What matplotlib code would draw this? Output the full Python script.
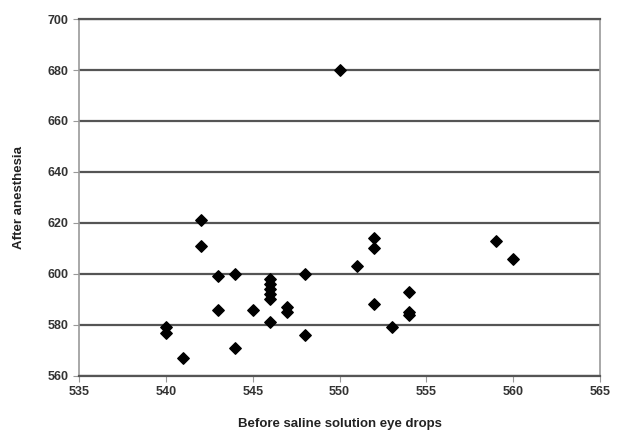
import matplotlib
matplotlib.use("Agg")
import matplotlib.pyplot as plt

plt.rcParams['font.family'] = ['Liberation Sans', 'DejaVu Sans']

# vrijednosti ocitane sa slike
before = [550, 542, 542, 543, 544, 543, 540, 540, 541, 544, 545,
          546, 546, 546, 546, 546, 546, 547, 547, 548, 548, 551,
          552, 552, 552, 554, 554, 554, 553, 559, 560]
after = [680, 621, 611, 599, 600, 586, 579, 577, 567, 571, 586,
         598, 596, 594, 592, 590, 581, 587, 585, 600, 576, 603,
         614, 610, 588, 593, 585, 584, 579, 613, 606]

fig = plt.figure(figsize=(6.23, 4.33), dpi=100)
ax = fig.add_axes([0.127, 0.132, 0.836, 0.824])

ax.scatter(before, after, marker="D", s=34, color="black", zorder=3)

ax.set_xlim(535, 565)
ax.set_ylim(560, 700)
ax.set_xticks(range(535, 566, 5))
ax.set_yticks(range(560, 701, 20))
ax.yaxis.grid(True, color="#555555", linewidth=1.6)
ax.set_axisbelow(True)

for s in ax.spines.values():
    s.set_color("#999999")
    s.set_linewidth(1.2)
ax.spines["top"].set_color("#555555")
ax.spines["bottom"].set_color("#555555")
ax.spines["top"].set_linewidth(1.6)
ax.spines["bottom"].set_linewidth(1.6)
ax.tick_params(axis="both", labelsize=9, color="#999999", length=4)
for lab in ax.get_xticklabels() + ax.get_yticklabels():
    lab.set_fontweight("bold")
    lab.set_color("#333333")

ax.set_xlabel("Before saline solution eye drops", fontsize=9.5, fontweight="bold", color="#222222", labelpad=14)
ax.set_ylabel("After anesthesia", fontsize=9.5, fontweight="bold", color="#222222", labelpad=16)

fig.savefig("out.png", dpi=100)
